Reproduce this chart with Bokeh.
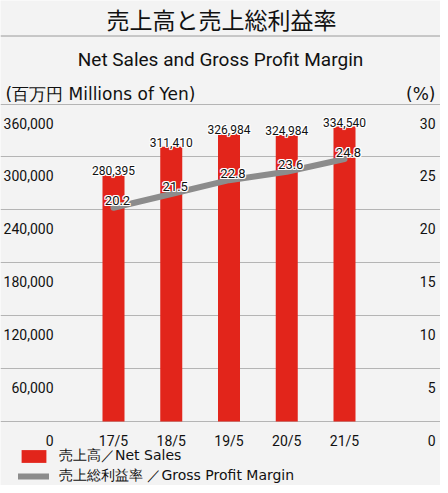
from bokeh.plotting import figure
from bokeh.models import Range1d, Label, Span, Legend, LegendItem, FixedTicker, Grid
from bokeh.core.properties import value
from bokeh.embed import file_html
from bokeh.resources import INLINE

# ---- data ----
categories = ["17/5", "18/5", "19/5", "20/5", "21/5"]
net_sales = [280395, 311410, 326984, 324984, 334540]
gross_margin = [20.2, 21.5, 22.8, 23.6, 24.8]
sales_ticks = [0, 60000, 120000, 180000, 240000, 300000, 360000]
margin_ticks = [0, 5, 10, 15, 20, 25, 30]

title_ja = "売上高と売上総利益率"
title_en = "Net Sales and Gross Profit Margin"
unit_left = "(百万円 Millions of Yen)"
unit_right = "(%)"
legend_sales = "売上高／Net Sales"
legend_margin = "売上総利益率 ／Gross Profit Margin"

# ---- styling ----
RED = "#e2251b"
GRAY = "#8c8c8c"
BG = "#f3f3f3"
GRID = "#b4b4b4"
TXT = "#111111"
NUM_FONT = "Roboto"
JA_FONT = "Noto Sans CJK JP"
LAT_FONT = "DejaVu Sans"

W, H = 440, 485
# page-pixel geometry helpers (page origin includes the 8px body margin)
ZERO_PY, TOP_PY = 429.0, 111.5
K = sales_ticks[-1] / (ZERO_PY - TOP_PY)
PCT = sales_ticks[-1] / margin_ticks[-1]
X0, DX = 121.0, 57.75


def Y(py):
    return (ZERO_PY - py) * K


def X(px):
    return (px - X0) / DX


y_start, y_end = Y(8 + H), Y(8)
p = figure(width=W, height=H, output_backend="svg", toolbar_location=None,
           x_range=Range1d(X(8), X(8 + W)), y_range=Range1d(y_start, y_end),
           x_axis_location=None, y_axis_location=None, min_border=0,
           background_fill_color=BG, border_fill_color=BG, outline_line_color=None)
p.title.visible = False
p.extra_y_ranges = {"pct": Range1d(y_start / PCT, y_end / PCT)}
p.xgrid.visible = False
p.ygrid.visible = False

grid = Grid(dimension=1, ticker=FixedTicker(ticks=sales_ticks), grid_line_color=GRID, grid_line_width=1)
p.add_layout(grid, "center")

idx = list(range(len(categories)))

bars = p.vbar(x=idx, top=net_sales, width=22 / DX, fill_color=RED, line_color=None)
line = p.line(x=idx, y=gross_margin, y_range_name="pct", line_color=GRAY, line_width=6,
              line_cap="round", line_join="round")


def halo_text(x_offset=0, y_offset=0, **kw):
    for dx, dy in [(-1, -1), (0, -1), (1, -1), (-1, 0), (1, 0), (-1, 1), (0, 1), (1, 1)]:
        p.text(x_offset=x_offset + dx, y_offset=y_offset + dy, text_color="white", **kw)
    p.text(x_offset=x_offset, y_offset=y_offset, text_color=TXT, **kw)


halo_text(x=idx, y=net_sales, text=[f"{v:,}" for v in net_sales], text_align="center",
          text_baseline="alphabetic", y_offset=-4, text_font=value(NUM_FONT),
          text_font_size="12px")
halo_text(x=idx, y=gross_margin, y_range_name="pct", text=[f"{v:.1f}" for v in gross_margin],
          text_align="center", text_baseline="alphabetic", x_offset=4, y_offset=-7,
          text_font=value(NUM_FONT), text_font_size="13px")

# tick labels (below gridlines)
p.text(x=[X(61)] * len(sales_ticks), y=sales_ticks, text=[f"{v:,}" for v in sales_ticks],
       text_align="right", text_baseline="alphabetic", y_offset=19,
       text_font=value(NUM_FONT), text_font_size="14px", text_color=TXT)
p.text(x=[X(443)] * len(margin_ticks), y=margin_ticks, y_range_name="pct",
       text=[str(v) for v in margin_ticks], text_align="right", text_baseline="alphabetic",
       y_offset=19, text_font=value(NUM_FONT), text_font_size="14px", text_color=TXT)
p.text(x=idx, y=[0] * len(idx), text=categories, text_align="center", text_baseline="alphabetic",
       y_offset=19, text_font=value(NUM_FONT), text_font_size="14px", text_color=TXT)

# titles
p.add_layout(Label(x=X(229), y=Y(26.5), text=title_ja, text_align="center", text_baseline="middle",
                   text_font=JA_FONT, text_font_size="23px", text_color=TXT))
p.add_layout(Span(location=Y(43.5), dimension="width", line_color="#9a9a9a", line_width=1))
p.add_layout(Label(x=X(228), y=Y(66.7), text=title_en, text_align="center", text_baseline="alphabetic",
                   text_font="Roboto", text_font_size="19px", text_color=TXT))
p.add_layout(Label(x=X(13), y=Y(101), text=unit_left, text_align="left", text_baseline="alphabetic",
                   text_font=LAT_FONT, text_font_size="17px", text_color=TXT))
p.add_layout(Label(x=X(443), y=Y(101), text=unit_right, text_align="right", text_baseline="alphabetic",
                   text_font=LAT_FONT, text_font_size="17px", text_color=TXT))

legend = Legend(items=[LegendItem(label=legend_sales, renderers=[bars]),
                       LegendItem(label=legend_margin, renderers=[line])],
                location=(18, 0), orientation="vertical", glyph_width=31, glyph_height=16,
                label_height=16, spacing=2, padding=0, margin=0, label_standoff=10,
                background_fill_alpha=0, border_line_alpha=0,
                label_text_font=LAT_FONT, label_text_font_size="14px", label_text_color=TXT)
p.add_layout(legend)

open("out.html", "w").write(file_html(p, INLINE))
